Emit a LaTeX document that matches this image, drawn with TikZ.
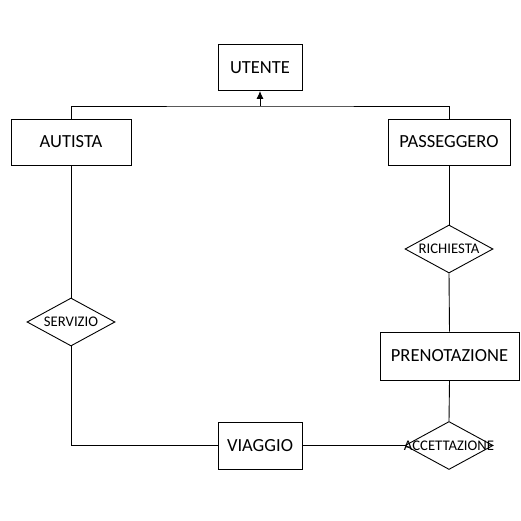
\documentclass[tikz,border=0pt]{standalone}
\usepackage{fontspec}
\setmainfont{Carlito}
\usetikzlibrary{positioning}
\usetikzlibrary{arrows.meta}
\usetikzlibrary{shapes.geometric}

\tikzset{
  entita/.style={draw, rectangle, minimum height=46pt, inner sep=0pt, font=\fontsize{18.5}{22}\selectfont},
  relazione/.style={draw, diamond, aspect=1.83, minimum width=88pt, minimum height=48pt, inner sep=0pt, font=\fontsize{14.7}{17}\selectfont},
}

\begin{document}
\begin{tikzpicture}[x=1pt, y=-1pt, line width=0.9pt]
    \useasboundingbox (0,0) rectangle (520,521);

    \node[entita, minimum width=84pt] (utente) at (260,67.5) {UTENTE};
    \node[entita, minimum width=120pt] (autista) at (71,142) {AUTISTA};
    \node[entita, minimum width=122pt] (passeggero) at (449,142) {PASSEGGERO};
    \node[relazione] (richiesta) at (449,249) {\makebox[0pt]{RICHIESTA}};
    \node[relazione] (servizio) at (71,322) {\makebox[0pt]{SERVIZIO}};
    \node[entita, minimum width=139pt, minimum height=48pt] (prenotazione) at (449.5,356) {PRENOTAZIONE};
    \node[entita, minimum width=84pt, minimum height=47pt] (viaggio) at (260,445.5) {VIAGGIO};
    \node[relazione] (accettazione) at (449,445.5) {\makebox[0pt]{ACCETTAZIONE}};

    \coordinate (gerarchia) at (260,106);

    \draw (autista.north) |- (gerarchia) -| (passeggero.north);
    \draw[-{Latex[length=8pt, width=7pt]}] (gerarchia) -- (utente.south);

    \draw (autista.south) -- (servizio.north);
    \draw (servizio.south) |- (viaggio.west);
    \draw (viaggio.east) -- (accettazione.west);

    \draw (passeggero.south) -- (richiesta.north);
    \draw (richiesta.south) -- (prenotazione.north);
    \draw (prenotazione.south) -- (accettazione.north);

  \end{tikzpicture}
\end{document}
